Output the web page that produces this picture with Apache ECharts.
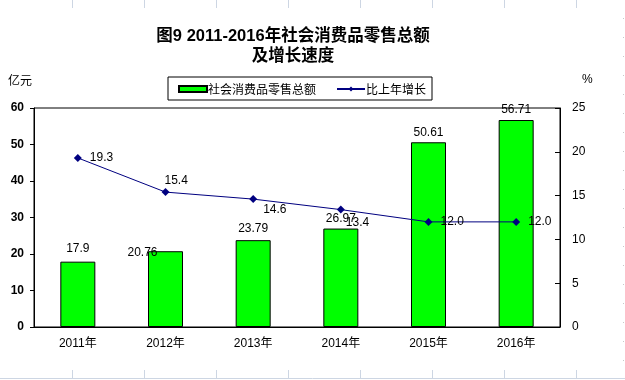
<!DOCTYPE html>
<html><head><meta charset="utf-8">
<script src="https://cdn.jsdelivr.net/npm/echarts@6/dist/echarts.min.js"></script>
<style>html,body{margin:0;padding:0;background:#fff;}#c{width:625px;height:380px;}</style>
</head><body><div id="c"></div>
<script>
var categories = ['2011年','2012年','2013年','2014年','2015年','2016年'];
var salesValues = [17.9, 20.76, 23.79, 26.97, 50.61, 56.71];
var growthValues = [19.3, 15.4, 14.6, 13.4, 12.0, 12.0];
var growthLabels = ['19.3','15.4','14.6','13.4','12.0','12.0'];
var leftTicks = {min: 0, max: 60, interval: 10};
var rightTicks = {min: 0, max: 25, interval: 5};

var barLabelOffsets = [[0,-2],[-23,12],[0,0],[0,1],[0,1],[0,1]];
var lineLabelOffsets = [[3,0],[-10,-11],[1,11],[-4,13],[3,0],[3,0]];

var NUM = 'Liberation Sans, Arial, sans-serif';
var CJK = 'Liberation Sans, Noto Sans CJK SC, sans-serif';

var chart = echarts.init(document.getElementById('c'), null, {renderer:'canvas'});

var deco = [];
var xs = [72,144,216,288,360,432,504,576];
xs.forEach(function(x){
  deco.push({type:'line', shape:{x1:x+0.5,y1:0,x2:x+0.5,y2:8}, style:{stroke:'#cdd6e3',lineWidth:1}, silent:true});
  deco.push({type:'line', shape:{x1:x+0.5,y1:370,x2:x+0.5,y2:378}, style:{stroke:'#cdd6e3',lineWidth:1}, silent:true});
});
deco.push({type:'line', shape:{x1:0,y1:378.5,x2:625,y2:378.5}, style:{stroke:'#cdd6e3',lineWidth:1}, silent:true});
deco.push({type:'line', shape:{x1:623.5,y1:18,x2:623.5,y2:370}, style:{stroke:'#c8c8c8',lineWidth:1,lineDash:[1,18]}, silent:true});
deco.push({type:'text', left:8, top:74, style:{text:'亿元', font:'12px Noto Sans CJK SC', fill:'#000'}});
deco.push({type:'text', left:582, top:74, style:{text:'%', font:'12px Liberation Sans', fill:'#000'}});

chart.setOption({
  backgroundColor:'#fff',
  animation:false,
  title:{
    text:'图9 2011-2016年社会消费品零售总额\n及增长速度',
    left:293, top:26, textAlign:'center', padding:0,
    textStyle:{fontSize:16.5, fontWeight:'bold', fontFamily:CJK, color:'#000', lineHeight:20}
  },
  legend:{
    left:168, top:77, width:260,
    borderColor:'#000', borderWidth:1, padding:[6,6,5,10], itemGap:20,
    itemWidth:28, itemHeight:6,
    textStyle:{fontSize:12, fontFamily:'Noto Sans CJK SC', color:'#000', padding:[0,0,0,-4]},
    data:[{name:'社会消费品零售总额', icon:'rect'},{name:'比上年增长'}]
  },
  grid:{left:34, right:65, top:108, bottom:53, show:true, borderColor:'#000', borderWidth:1, backgroundColor:'transparent'},
  xAxis:{
    type:'category', data:categories,
    axisLine:{lineStyle:{color:'#000', width:1}},
    axisTick:{inside:true, length:4, lineStyle:{color:'#000'}},
    axisLabel:{margin:11, fontSize:12, fontFamily:CJK, color:'#000'}
  },
  yAxis:[{
    type:'value', min:leftTicks.min, max:leftTicks.max, interval:leftTicks.interval,
    axisLine:{show:true, lineStyle:{color:'#000'}},
    axisTick:{show:true, length:4, lineStyle:{color:'#000'}},
    axisLabel:{margin:10, fontSize:12, fontWeight:'bold', fontFamily:NUM, color:'#000'},
    splitLine:{show:false}
  },{
    type:'value', min:rightTicks.min, max:rightTicks.max, interval:rightTicks.interval,
    position:'right',
    axisLine:{show:true, lineStyle:{color:'#000'}},
    axisTick:{show:true, inside:true, length:5, lineStyle:{color:'#000'}},
    axisLabel:{margin:12, fontSize:12, fontFamily:NUM, color:'#000'},
    splitLine:{show:false}
  }],
  series:[{
    name:'社会消费品零售总额', type:'bar', barWidth:35,
    itemStyle:{color:'#00ff00', borderColor:'#000', borderWidth:1},
    data:salesValues.map(function(v,i){
      return {value:v, label:{offset:barLabelOffsets[i]}};
    }),
    label:{show:true, position:'top', distance:5, fontSize:12, fontFamily:NUM, color:'#000'}
  },{
    name:'比上年增长', type:'line', yAxisIndex:1,
    symbol:'diamond', symbolSize:8,
    lineStyle:{color:'#000080', width:1},
    itemStyle:{color:'#000080'},
    data:growthValues.map(function(v,i){
      return {value:v, label:{offset:lineLabelOffsets[i], formatter:growthLabels[i]}};
    }),
    label:{show:true, position:'right', distance:5, fontSize:12, fontFamily:NUM, color:'#000'},
    z:5
  }],
  graphic:deco
});
</script></body></html>
